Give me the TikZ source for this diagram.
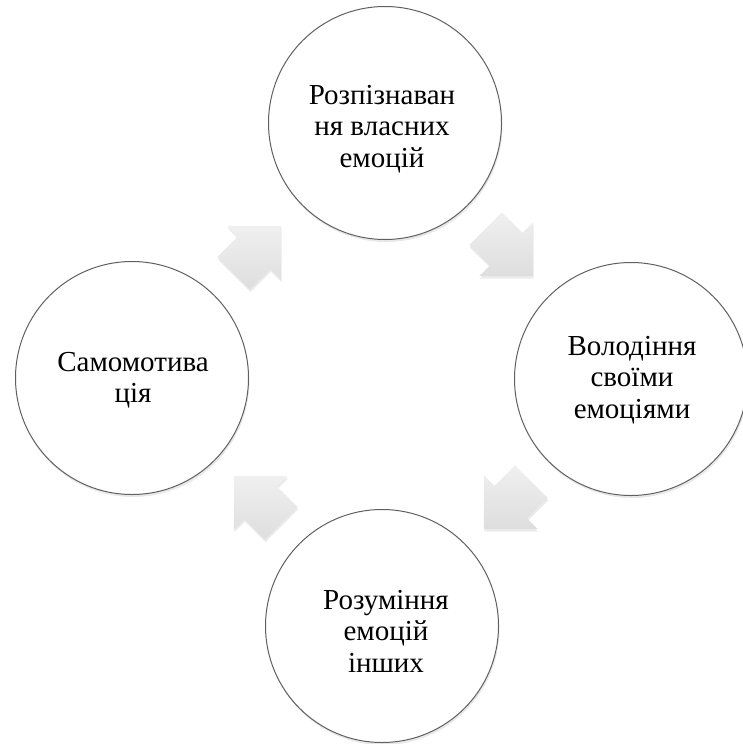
\documentclass[tikz,border=0pt]{standalone}
\usepackage{fontspec}
\setmainfont{Liberation Serif}
\usetikzlibrary{shadows}
\definecolor{ringline}{HTML}{606060}
\tikzset{
  x=1pt, y=-1pt,
  ring/.style={circle, draw=ringline, line width=1pt, fill=white, minimum size=233pt, inner sep=0pt,
    drop shadow={opacity=0.18, shadow xshift=1pt, shadow yshift=-2.5pt}},
  ringtext/.style={align=center, inner sep=0pt, font=\fontsize{29}{31.5}\selectfont},
  cycarrow/.pic={
    \shade[top color=black!6, bottom color=black!13, draw=none,
      drop shadow={opacity=0.16, shadow xshift=0.5pt, shadow yshift=-2.5pt}]
      (-33,-23) -- (-4,-23) -- (-4,-38) -- (34,0) -- (-4,38) -- (-4,23) -- (-33,23) -- cycle;
  }
}
\begin{document}
\begin{tikzpicture}
\useasboundingbox (0,0) rectangle (742,744);
\node[ring] (c1) at (385,123) {};
\node[ring] (c2) at (631,379) {};
\node[ring] (c3) at (382,626) {};
\node[ring] (c4) at (132,378) {};
\node[ringtext] (t1) at (382,129) {Розпізнаван\\ня власних\\емоцій};
\node[ringtext] (t2) at (632,380) {Володіння\\своїми\\емоціями};
\node[ringtext] (t3) at (386,631) {Розуміння\\емоцій\\інших};
\node[ringtext] (t4) at (133,380) {Самомотива\\ція};
\pic[rotate=45] (a1) at (257,250) {cycarrow};
\pic[rotate=-45] (a2) at (509,252) {cycarrow};
\pic[rotate=-135] (a3) at (508,505) {cycarrow};
\pic[rotate=135] (a4) at (258,500) {cycarrow};
\end{tikzpicture}
\end{document}
